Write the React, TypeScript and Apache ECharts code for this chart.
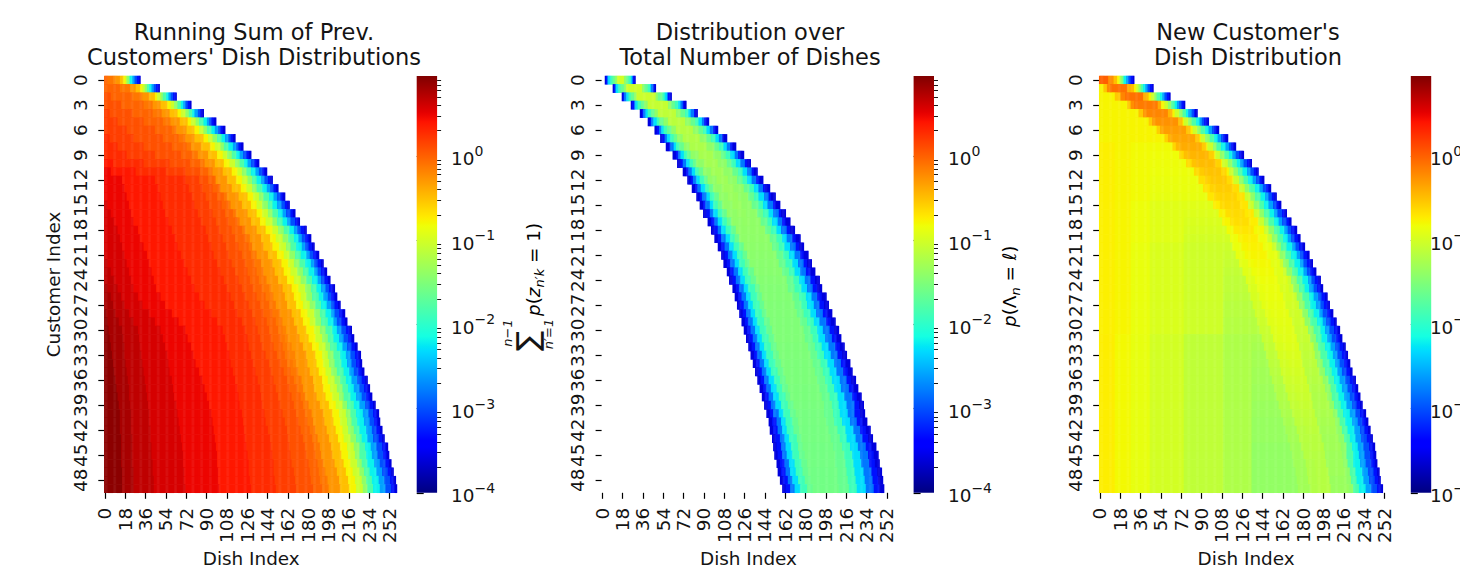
import React, { useEffect, useRef } from "react";
import * as echarts from "echarts";

const DISHES = Array.from({ length: 260 }, (_, i) => String(i));
const CUSTOMERS = Array.from({ length: 50 }, (_, i) => String(i));
const TITLES = ["Running Sum of Prev.\nCustomers' Dish Distributions", "Distribution over\nTotal Number of Dishes", "New Customer's\nDish Distribution"];
const COLORBAR_TICKS = [-4, -3, -2, -1, 0];
const MINOR_MULTIPLES = [2, 3, 4, 5, 6, 7, 8, 9];
const LOG_MIN = -4;
const LOG_MAX = 0.95;

// last occupied dish (exclusive) per customer
const EDGE_1 = [32,49,64,77,88,99,107,116,123,130,137,144,149,154,160,164,169,173,179,183,186,190,194,197,200,204,206,209,213,215,219,221,224,227,228,230,233,235,237,240,243,244,246,248,251,252,254,256,258,259];
const EDGE_3 = [31,48,63,76,87,97,106,114,121,128,135,141,146,152,157,161,166,170,175,178,182,186,189,192,196,198,202,204,207,210,213,215,218,220,222,224,227,229,231,233,236,238,240,242,244,245,246,248,249,251];
const LEFT_2 = [3,10,18,26,34,41,47,52,57,63,67,72,76,80,84,87,90,94,97,100,103,106,108,111,113,116,118,120,122,124,126,128,130,132,134,136,138,140,142,144,146,148,149,151,152,153,155,156,158,160];
const RIGHT_2 = [30,48,62,75,85,95,103,111,119,126,132,138,143,149,154,158,163,167,171,176,179,183,186,189,193,195,199,201,204,207,210,212,215,217,220,222,225,227,230,232,233,235,238,240,243,245,246,248,249,250];
const PEAK_2 = [-100,-103,-106,-109,-112,-115,-118,-121,-123,-126,-128,-130,-131,-133,-134,-135,-137,-138,-140,-141,-142,-143,-144,-145,-147,-148,-148,-149,-149,-150,-150,-150,-151,-151,-152,-152,-152,-153,-153,-154,-155,-155,-156,-156,-157,-157,-157,-158,-158,-158];

// log10 values of the bands counted back from a row's right edge, and their widths in dishes
const TAIL_LEVELS = [-3.6,-3.3,-3.0,-2.6,-2.2,-1.8,-1.4,-1.05,-0.78,-0.5,-0.28];
const TAIL_INNER = [
[1,3,5,7,9,10,12,13,15],[1,3,5,7,9,11,13,15,17],[1,3,5,7,9,12,14,17,19],[1,3,5,7,9,12,15,18,21],
[2,3,5,8,10,13,16,20,23],[2,4,6,8,11,15,18,22,25],[2,4,6,9,12,16,19,23,27],[2,4,6,9,12,16,20,24,28],
[2,4,6,9,13,17,20,25,29],[2,4,7,10,13,17,21,25,30],[2,4,7,10,13,17,21,26,31],[2,4,7,10,14,18,22,26,31],
[2,4,7,10,14,18,22,27,32],[2,4,7,10,14,19,23,28,33],[2,4,7,10,14,19,23,28,33],[2,4,7,11,15,19,24,29,34],
[2,4,8,11,15,20,24,29,34],[2,4,8,11,15,20,24,30,35],[2,5,8,11,15,20,25,30,36],[2,5,8,11,15,20,25,31,36],
[2,5,8,11,16,21,25,31,37],[2,5,8,11,16,21,26,31,37],[2,5,8,11,16,21,26,31,37],[2,5,8,11,16,21,26,32,38],
[2,5,8,11,16,21,26,32,38],[2,5,8,12,16,21,26,32,38],[2,5,8,12,16,22,27,32,38],[2,5,8,12,17,22,27,33,39],
[2,5,9,12,17,22,27,33,39],[2,5,9,12,17,23,28,33,39],[2,5,9,13,17,23,28,33,40],[2,5,9,13,18,23,28,34,40],
[2,5,9,13,18,24,28,34,40],[2,5,9,13,18,24,29,34,40],[2,5,9,13,18,24,29,34,40],[2,5,9,13,18,24,29,34,40],
[2,5,9,14,19,24,29,35,40],[2,5,9,14,19,24,29,35,41],[2,5,9,14,19,25,29,35,41],[2,5,9,14,19,25,29,35,41],
[2,5,9,14,20,25,29,35,41],[2,5,9,14,20,25,29,35,41],[2,5,9,14,20,25,30,35,41],[2,5,10,15,20,25,30,36,41],
[2,5,10,15,20,25,30,36,42],[2,5,10,15,20,26,30,36,42],[2,5,10,15,21,26,30,36,42],[2,5,10,15,21,26,30,36,42],
[2,5,10,15,21,26,30,36,42],[2,5,10,15,21,26,30,36,42],
];
const TAIL_W9 = [18,21,24,27,30,32,34,36,37,38,39,39,40,41,41,42,42,43,44,44,45,45,45,46,46,46,46,47,47,47,48,48,48,48,48,48,48,49,49,49,49,49,49,49,50,50,50,50,50,50];
const TAIL_W10 = [22,26,30,34,37,40,43,44,46,47,48,48,50,51,51,52,52,53,54,54,55,55,55,56,56,56,56,57,57,57,58,58,58,58,58,58,58,59,59,59,59,59,59,59,60,60,60,60,60,60];

// panel 1: log10 levels on the left, and for each row where each level ends (dish)
const P1_LEVELS = [0.9,0.78,0.68,0.58,0.48,0.38,0.28,0.18,0.08,-0.02,-0.12];
const P1_REST = -0.18;
const P1 = [
[0,0,0,0,0,0,0,0,0,3,8],[0,0,0,0,0,0,0,0,0,14,23],[0,0,0,0,0,0,0,0,6,25,33],[0,0,0,0,0,0,0,0,15,35,43],[0,0,0,0,0,0,0,5,25,43,51],
[0,0,0,0,0,0,0,12,35,52,58],[0,0,0,0,0,0,0,20,45,60,64],[0,0,0,0,0,0,5,26,52,66,72],[0,0,0,0,0,0,12,35,60,73,78],[0,0,0,0,0,0,20,45,68,78,84],
[0,0,0,0,0,8,35,58,76,85,89],[0,0,0,0,6,28,55,72,85,92,96],[0,0,0,0,16,45,72,84,92,98,100],[0,0,0,0,18,48,75,87,96,102,105],[0,0,0,0,20,50,78,90,100,106,110],
[0,0,0,3,22,52,80,93,104,110,114],[0,0,0,6,24,54,83,96,107,114,118],[0,0,0,9,26,57,86,99,110,118,122],[0,0,0,12,30,60,90,102,113,122,126],[0,0,0,14,32,63,92,105,116,125,129],
[0,0,0,16,35,65,95,108,119,128,132],[0,0,0,18,38,68,97,110,122,130,136],[0,0,3,20,40,71,100,113,125,133,139],[0,0,6,22,42,74,103,116,127,135,141],[0,0,9,24,44,77,106,119,129,137,143],
[0,3,12,26,46,80,109,122,132,140,146],[0,6,15,30,50,84,112,125,135,143,149],[0,8,18,34,54,89,115,128,138,146,152],[2,10,22,40,60,95,118,131,141,149,155],[3,13,26,45,66,100,122,134,144,152,157],
[4,16,30,50,72,105,125,136,146,154,158],[5,17,31,52,74,107,127,138,148,156,160],[6,18,32,54,77,109,128,140,150,158,162],[7,18,33,56,79,111,130,143,153,160,164],[8,19,34,57,81,112,132,146,156,162,167],
[9,20,35,58,84,114,134,148,159,165,171],[10,21,36,60,87,116,136,150,162,168,174],[11,22,37,61,89,118,138,152,164,171,177],[12,22,38,62,91,119,139,154,166,174,179],[13,23,39,64,93,120,140,156,168,176,181],
[14,24,40,65,95,122,142,158,170,178,183],[14,24,40,66,96,123,143,160,172,180,185],[14,24,41,67,97,124,145,162,174,182,187],[15,25,41,68,98,125,147,163,176,184,189],[15,25,42,69,99,126,148,164,178,186,191],
[15,25,42,70,100,127,149,165,179,187,192],[15,25,43,70,100,128,150,166,181,189,194],[16,26,43,71,101,128,150,168,182,190,195],[16,26,44,71,101,129,151,169,183,191,197],[16,26,44,72,102,130,152,170,185,193,198],
];

// panel 2: bands from the left and right edge of each row, widths in dishes
const P2_LEVELS = [-3.6,-3.3,-2.8,-2.3,-1.9,-1.65,-1.4];
const P2_LEFT = [
[1,2,3,5,7,9,11],[1,2,3,5,7,10,12],[1,2,4,6,8,11,13],[1,3,4,6,9,12,15],[2,3,5,7,10,13,16],[2,3,5,8,10,14,18],[2,4,6,8,11,15,19],[2,4,6,9,12,15,20],
[3,4,7,9,12,16,21],[3,5,7,10,13,16,23],[3,5,8,11,14,17,24],[3,5,8,11,14,18,25],[3,5,8,11,15,18,26],[3,5,8,12,15,19,27],[3,5,9,12,16,20,28],[3,5,9,12,16,20,29],
[3,6,9,13,17,21,30],[3,6,9,13,17,21,31],[3,6,9,13,18,22,31],[3,6,10,14,18,22,32],[3,6,10,14,19,23,32],[3,6,10,14,19,23,32],[3,6,10,14,19,23,32],[3,6,10,14,19,24,33],
[3,6,10,14,19,24,33],[3,6,10,14,20,24,33],[3,6,10,14,20,24,33],[3,6,10,14,20,24,33],[3,6,10,14,20,24,33],[3,6,10,14,20,25,33],[3,6,10,14,20,25,33],[3,6,10,14,20,25,33],
[3,6,10,14,20,25,33],[3,6,10,14,20,25,33],[3,6,10,14,20,25,33],[3,6,10,14,20,25,33],[3,6,10,15,20,25,34],[3,6,10,15,20,25,34],[3,6,10,15,21,25,34],[3,6,10,15,21,26,34],
[3,6,11,15,21,26,34],[3,7,11,15,21,26,34],[3,7,11,15,21,26,35],[3,7,11,15,22,26,35],[3,7,11,16,22,26,35],[3,7,11,16,22,27,35],[3,7,11,16,22,27,35],[3,7,11,16,22,27,35],
[3,7,11,16,22,27,35],[3,7,11,16,22,27,35],
];
const P2_RIGHT = [
[1,2,3,4,6,8,10],[1,2,4,5,7,10,12],[1,3,4,6,8,12,14],[2,3,5,7,10,13,16],[2,3,6,8,11,15,19],[2,4,6,9,12,16,21],[2,4,7,10,13,17,22],[3,4,7,10,14,18,24],
[3,5,8,11,15,19,26],[3,5,8,12,16,20,27],[3,5,9,13,17,21,29],[3,5,9,13,17,22,30],[3,6,10,14,18,23,31],[4,6,10,14,18,23,32],[4,6,10,15,19,24,33],[4,6,11,15,19,25,34],
[4,6,11,15,20,25,35],[4,7,11,16,20,26,36],[4,7,12,16,21,26,36],[4,7,12,16,21,27,37],[4,7,12,17,22,28,38],[4,7,12,17,22,28,38],[4,7,12,17,23,29,39],[4,8,13,18,23,29,39],
[4,8,13,18,23,29,40],[4,8,13,18,24,30,40],[4,8,13,18,24,30,41],[4,8,13,19,24,30,41],[4,8,14,19,25,31,41],[4,8,14,19,25,31,42],[4,8,14,19,25,31,42],[4,8,14,20,25,32,42],
[4,8,14,20,26,32,43],[4,8,14,20,26,32,43],[4,8,14,20,26,33,43],[4,8,14,20,26,33,43],[4,8,14,21,27,34,44],[4,8,15,21,27,34,44],[4,8,15,21,28,35,45],[4,8,15,22,28,35,45],
[4,9,15,22,28,36,46],[4,9,15,22,29,36,46],[4,9,15,22,29,37,47],[4,9,15,23,29,37,47],[4,9,16,23,30,38,48],[4,9,16,23,30,38,48],[4,9,16,23,30,39,49],[4,9,16,24,31,39,49],
[4,9,16,24,31,40,50],[4,9,16,24,31,40,50],
];

// panel 3: per row, pairs of (end dish, log10 value x 100) before the right tail
const F0 = [14,-75,28,-78,45,-81];
const FT = [14,-75,28,-78,45,-84,75,-92];
const FA = [14,-75,28,-78,45,-87,75,-96,110,-103];
const FB = [14,-74,28,-80,45,-88,75,-100,110,-112,135,-122];
const P3 = [
[8,0,12,-22],[4,-78,7,-54,10,-22,25,-9,28,-40],[14,-78,19,-54,23,-20,39,-9,42,-40],[25,-78,28,-54,31,-24,52,-14,55,-40],[35,-78,39,-54,42,-28,61,-20,65,-44],
[44,-78,47,-56,50,-32,70,-26,74,-48],[51,-78,54,-58,57,-38,77,-32,81,-52],[58,-78,61,-60,64,-42,85,-36,89,-54],[...F0,65,-82,68,-62,72,-46,91,-40,95,-56],[...F0,71,-83,75,-62,79,-50,97,-44,102,-58],
[...F0,77,-84,82,-64,86,-52,103,-48,108,-60],[...F0,84,-85,89,-64,93,-56,108,-52,113,-62],[...F0,88,-86,94,-66,99,-58,113,-54,118,-64],[...F0,92,-87,98,-68,103,-60,118,-57,124,-66],[...F0,96,-88,102,-70,107,-62,122,-60,129,-68],
[...FT,101,-92,107,-74,111,-64,125,-62,132,-70],[...FT,106,-94,112,-76,117,-66,129,-64,137,-72],[...FT,109,-96,116,-78,120,-68,133,-66,141,-74],[...FT,113,-98,119,-82,124,-72,137,-70,146,-80],[...FT,116,-100,123,-84,128,-76,141,-74,149,-84],
[...FA,118,-104,126,-86,131,-78,145,-76,153,-86],[...FA,121,-106,129,-88,134,-80,149,-78,158,-88],[...FA,124,-108,132,-90,137,-82,152,-80,160,-90],[...FA,127,-110,135,-92,140,-84,155,-82,163,-92],[...FA,130,-112,138,-94,143,-86,158,-84,167,-94],
[...FA,132,-112,140,-96,145,-88,160,-86,168,-96],[...FA,134,-114,142,-98,147,-89,163,-87,172,-98],[...FA,136,-116,144,-100,149,-90,165,-88,174,-100],[...FA,138,-116,147,-102,152,-91,168,-89,177,-102],[...FA,140,-118,149,-104,155,-92,171,-90,180,-104],
[...FA,142,-118,152,-106,158,-93,173,-91,183,-106],[...FB,144,-124,154,-108,162,-94,175,-92,185,-108],[...FB,146,-126,156,-110,164,-96,177,-94,187,-110],[...FB,148,-128,158,-112,166,-98,179,-96,189,-112],[...FB,150,-128,160,-114,168,-100,180,-98,190,-114],
[...FB,151,-130,161,-116,169,-102,182,-100,192,-116],[...FB,153,-130,163,-118,171,-104,184,-102,194,-118],[...FB,155,-132,165,-120,173,-106,186,-104,196,-120],[...FB,157,-132,167,-120,175,-108,188,-106,198,-122],[...FB,159,-134,169,-122,177,-110,189,-108,199,-122],
[...FB,161,-134,171,-124,179,-112,191,-110,201,-124],[...FB,163,-136,173,-126,181,-114,193,-112,203,-126],[...FB,165,-136,175,-128,183,-116,195,-114,205,-128],[...FB,167,-136,177,-128,185,-116,197,-116,207,-130],[...FB,169,-138,179,-130,187,-118,199,-116,209,-130],
[...FB,171,-138,181,-130,189,-118,200,-118,210,-132],[...FB,172,-138,183,-130,191,-120,201,-118,211,-132],[...FB,174,-138,184,-130,192,-120,203,-118,213,-132],[...FB,175,-138,185,-130,193,-120,204,-118,214,-134],[...FB,176,-138,187,-130,194,-120,205,-118,216,-134],
];

const band = (widths: number[], levels: number[], d: number) => {
  for (let i = 0; i < widths.length; i++) if (d < widths[i]) return levels[i];
  return Infinity;
};
const tailAt = (r: number, d: number) =>
  band([...TAIL_INNER[r], TAIL_W9[r], TAIL_W10[r]], TAIL_LEVELS, d);

function panel1() {
  const out: number[][] = [];
  EDGE_1.forEach((edge, r) => {
    for (let c = 0; c < edge; c++) {
      const t = tailAt(r, edge - 1 - c);
      let v = P1_REST;
      for (let i = 0; i < P1_LEVELS.length; i++) if (c < P1[r][i]) { v = P1_LEVELS[i]; break; }
      out.push([c, r, Math.min(t, v)]);
    }
  });
  return out;
}
function panel2() {
  const out: number[][] = [];
  LEFT_2.forEach((left, r) => {
    for (let c = left; c < RIGHT_2[r]; c++) {
      const a = band(P2_LEFT[r], P2_LEVELS, c - left);
      const b = band(P2_RIGHT[r], P2_LEVELS, RIGHT_2[r] - 1 - c);
      out.push([c, r, Math.min(a, b, PEAK_2[r] / 100)]);
    }
  });
  return out;
}
function panel3() {
  const out: number[][] = [];
  EDGE_3.forEach((edge, r) => {
    const pairs = P3[r];
    const lastEnd = pairs[pairs.length - 2];
    const lastVal = pairs[pairs.length - 1] / 100;
    for (let c = 0; c < edge; c++) {
      let v = lastVal;
      if (c < lastEnd) {
        for (let i = 0; i < pairs.length; i += 2) if (c < pairs[i]) { v = pairs[i + 1] / 100; break; }
      } else {
        v = Math.min(lastVal, tailAt(r, edge - 1 - c));
      }
      out.push([c, r, v]);
    }
  });
  return out;
}

// matplotlib's jet colormap
const seg = (pts: number[][], t: number) => {
  for (let i = 1; i < pts.length; i++) {
    if (t <= pts[i][0]) {
      const [x0, y0] = pts[i - 1];
      const [x1, y1] = pts[i];
      return y0 + ((y1 - y0) * (t - x0)) / (x1 - x0);
    }
  }
  return pts[pts.length - 1][1];
};
const JET_R = [[0,0],[0.35,0],[0.66,1],[0.89,1],[1,0.5]];
const JET_G = [[0,0],[0.125,0],[0.375,1],[0.64,1],[0.91,0],[1,0]];
const JET_B = [[0,0.5],[0.11,1],[0.34,1],[0.65,0],[1,0]];
const JET = Array.from({ length: 129 }, (_, i) => {
  const t = i / 128;
  const ch = (p: number[][]) => Math.round(seg(p, t) * 255);
  return `rgb(${ch(JET_R)},${ch(JET_G)},${ch(JET_B)})`;
});

const PANEL_LEFT = [104.3, 601.6, 1099.2];
const BAR_LEFT = [416.7, 913.6, 1410.8];
const TITLE_CENTER = [249, 745, 1243];
const TOP = 76;
const HEIGHT = 416.8;
const WIDTH = 293.8;
const BAR_WIDTH = 20.4;
const FONT = "DejaVu Sans";
const INK = "#141414";
const TICK_SIZE = 18.4;

export default function App() {
  const ref = useRef<HTMLDivElement>(null);
  useEffect(() => {
    document.body.style.margin = "0";
    const chart = echarts.init(ref.current!, null, { renderer: "svg" });
    const minors: number[] = [];
    for (let e = -4; e <= 0; e++) for (const m of MINOR_MULTIPLES) {
      const v = e + Math.log10(m);
      if (v < LOG_MAX) minors.push(v);
    }
    const grids: any[] = [];
    const xAxes: any[] = [];
    const yAxes: any[] = [];
    const series: any[] = [];
    const visualMaps: any[] = [];
    const datas = [panel1(), panel2(), panel3()];
    const gradient = () => new echarts.graphic.LinearGradient(0, 1, 0, 0, JET.map((color, i) => ({ offset: i / (JET.length - 1), color })));
    PANEL_LEFT.forEach((left, p) => {
      grids.push({ left, top: TOP, width: WIDTH, height: HEIGHT });
      xAxes.push({
        type: "category", gridIndex: grids.length - 1, data: DISHES, position: "bottom",
        name: "Dish Index", nameLocation: "middle", nameGap: 57, nameMoveOverlap: false,
        nameTextStyle: { fontFamily: FONT, fontSize: 18.4, color: INK },
        axisLine: { show: false }, splitLine: { show: false },
        axisTick: { show: true, interval: 17, alignWithLabel: true, length: 6, lineStyle: { color: "#000", width: 1.2 } },
        axisLabel: { interval: 17, rotate: 90, margin: 15, fontFamily: FONT, fontSize: TICK_SIZE, color: INK, hideOverlap: false },
      });
      yAxes.push({
        type: "category", gridIndex: grids.length - 1, data: CUSTOMERS, inverse: true, position: "left",
        name: p === 0 ? "Customer Index" : "", nameLocation: "middle", nameGap: 42, nameRotate: 90, nameMoveOverlap: false,
        nameTextStyle: { fontFamily: FONT, fontSize: 18.4, color: INK },
        axisLine: { show: false }, splitLine: { show: false },
        axisTick: { show: true, interval: 2, alignWithLabel: true, length: 6, lineStyle: { color: "#000", width: 1.2 } },
        axisLabel: { interval: 2, rotate: 90, margin: 15, fontFamily: FONT, fontSize: TICK_SIZE, color: INK, hideOverlap: false },
      });
      series.push({
        type: "heatmap", xAxisIndex: xAxes.length - 1, yAxisIndex: yAxes.length - 1, data: datas[p],
        progressive: 0, silent: true, emphasis: { disabled: true }, itemStyle: { borderWidth: 0 },
      });
      visualMaps.push({
        type: "continuous", show: false, seriesIndex: p, dimension: 2, min: LOG_MIN, max: LOG_MAX,
        inRange: { color: JET },
      });
      // colour-bar axes
      grids.push({ left: BAR_LEFT[p], top: TOP, width: BAR_WIDTH, height: HEIGHT });
      const g = grids.length - 1;
      xAxes.push({ type: "value", gridIndex: g, show: false, min: 0, max: 1 });
      yAxes.push({
        type: "value", gridIndex: g, position: "right", min: LOG_MIN, max: LOG_MAX,
        axisLine: { show: false }, splitLine: { show: false },
        axisTick: { show: true, length: 7, customValues: COLORBAR_TICKS, lineStyle: { color: "#000", width: 1.2 } },
        axisLabel: {
          show: true, customValues: COLORBAR_TICKS, margin: 14, fontFamily: FONT, color: INK,
          showMinLabel: true, showMaxLabel: true, hideOverlap: false,
          formatter: (v: number) => `{b|10}{s|${v < 0 ? "\u2212" + -v : v}}`,
          rich: {
            b: { fontFamily: FONT, fontSize: TICK_SIZE, color: INK, lineHeight: 24, verticalAlign: "bottom" },
            s: { fontFamily: FONT, fontSize: 14, color: INK, lineHeight: 15, verticalAlign: "top" },
          },
        },
      });
      yAxes.push({
        type: "value", gridIndex: g, position: "right", min: LOG_MIN, max: LOG_MAX,
        axisLine: { show: false }, splitLine: { show: false },
        axisTick: { show: true, length: 4, customValues: minors, lineStyle: { color: "#000", width: 0.9 } },
        axisLabel: { show: false },
      });
    });
    const mathRich = {
      i: { fontFamily: FONT, fontStyle: "italic", fontSize: 18.4, color: INK, lineHeight: 26, verticalAlign: "middle" },
      r: { fontFamily: FONT, fontSize: 18.4, color: INK, lineHeight: 26, verticalAlign: "middle" },
      sub: { fontFamily: FONT, fontStyle: "italic", fontSize: 13, color: INK, lineHeight: 16, verticalAlign: "bottom" },
    };
    const rot = Math.PI / 2;
    chart.setOption({
      animation: false,
      backgroundColor: "#fff",
      title: TITLES.map((text, i) => ({
        text, left: TITLE_CENTER[i], top: 14, textAlign: "center",
        textStyle: { fontFamily: FONT, fontSize: 22.5, fontWeight: "normal", color: INK, lineHeight: 25 },
      })),
      grid: grids, xAxis: xAxes, yAxis: yAxes, series, visualMap: visualMaps,
      graphic: [
        ...BAR_LEFT.map((x) => ({ type: "rect", silent: true, z: 1, shape: { x, y: TOP, width: BAR_WIDTH, height: HEIGHT }, style: { fill: gradient() } })),
        { type: "text", silent: true, x: 533, y: 316, rotation: rot, style: { text: "{i|p}{r|(}{i|z}{sub|n\u2032k}{r| = 1)}", rich: mathRich, textAlign: "left", textVerticalAlign: "middle" } },
        { type: "text", silent: true, x: 527, y: 341, rotation: rot, style: { text: "\u2211", fontFamily: FONT, fontSize: 30, fill: INK, textAlign: "center", textVerticalAlign: "middle" } },
        { type: "text", silent: true, x: 507, y: 333, rotation: rot, style: { text: "n\u22121", fontFamily: FONT, fontStyle: "italic", fontSize: 13, fill: INK, textAlign: "center", textVerticalAlign: "middle" } },
        { type: "text", silent: true, x: 548, y: 334, rotation: rot, style: { text: "n\u2032=1", fontFamily: FONT, fontStyle: "italic", fontSize: 13, fill: INK, textAlign: "center", textVerticalAlign: "middle" } },
        { type: "text", silent: true, x: 1009, y: 327, rotation: rot, style: { text: "{i|p}{r|(\u039b}{sub|n}{r| = }{i|\u2113}{r|)}", rich: mathRich, textAlign: "left", textVerticalAlign: "middle" } },
      ],
    });
    return () => chart.dispose();
  }, []);
  return <div ref={ref} style={{ position: "fixed", left: 0, top: 0, width: 1460, height: 585, overflow: "hidden" }} />;
}
